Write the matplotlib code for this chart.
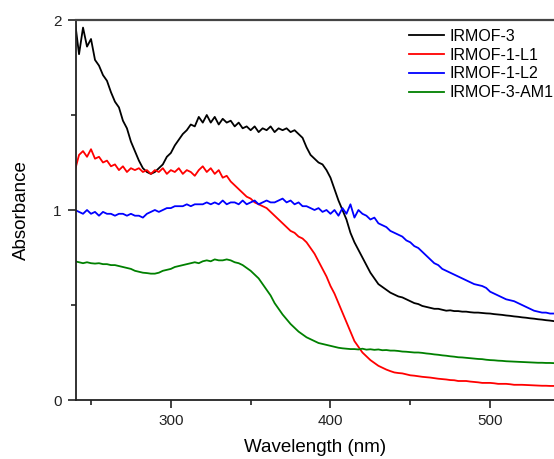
import numpy as np
import matplotlib
matplotlib.use("Agg")
from matplotlib import pyplot as plt
from matplotlib.ticker import MultipleLocator

plt.rcParams['font.family'] = ['Liberation Sans', 'DejaVu Sans']

# wavelength grid (nm), 2.5 nm steps from 240 to 540
wavelength = np.arange(240, 540.1, 2.5)

irmof3 = [1.99, 1.82, 1.96, 1.86, 1.90, 1.79, 1.76, 1.71, 1.68, 1.62,
          1.57, 1.54, 1.47, 1.43, 1.36, 1.31, 1.26, 1.22, 1.20, 1.19,
          1.20, 1.22, 1.24, 1.28, 1.30, 1.34, 1.37, 1.40, 1.42, 1.45,
          1.44, 1.49, 1.46, 1.50, 1.46, 1.49, 1.45, 1.48, 1.46, 1.47,
          1.44, 1.46, 1.43, 1.44, 1.42, 1.44, 1.41, 1.43, 1.42, 1.44,
          1.41, 1.43, 1.42, 1.43, 1.41, 1.42, 1.40, 1.38, 1.33, 1.29,
          1.27, 1.25, 1.24, 1.21, 1.17, 1.11, 1.05, 1.00, 0.95, 0.88,
          0.83, 0.79, 0.75, 0.71, 0.67, 0.64, 0.61, 0.595, 0.58, 0.565,
          0.555, 0.545, 0.54, 0.53, 0.52, 0.51, 0.505, 0.495, 0.49, 0.485,
          0.48, 0.48, 0.475, 0.47, 0.472, 0.468, 0.468, 0.465, 0.465, 0.462,
          0.46, 0.46, 0.458, 0.456, 0.455, 0.452, 0.45, 0.448, 0.445, 0.443,
          0.44, 0.438, 0.435, 0.433, 0.43, 0.428, 0.425, 0.423, 0.42, 0.418,
          0.415]

irmof1_l1 = [1.21, 1.29, 1.31, 1.28, 1.32, 1.27, 1.28, 1.25, 1.26, 1.23,
             1.24, 1.21, 1.23, 1.20, 1.22, 1.21, 1.22, 1.20, 1.21, 1.19,
             1.21, 1.20, 1.22, 1.19, 1.21, 1.20, 1.22, 1.19, 1.21, 1.20,
             1.18, 1.21, 1.23, 1.20, 1.22, 1.19, 1.21, 1.17, 1.18, 1.15,
             1.13, 1.11, 1.09, 1.07, 1.06, 1.04, 1.03, 1.02, 1.01, 0.99,
             0.97, 0.95, 0.93, 0.91, 0.89, 0.88, 0.86, 0.85, 0.83, 0.80,
             0.77, 0.73, 0.69, 0.65, 0.60, 0.56, 0.51, 0.46, 0.41, 0.36,
             0.31, 0.28, 0.25, 0.23, 0.21, 0.195, 0.18, 0.17, 0.16, 0.152,
             0.145, 0.142, 0.14, 0.135, 0.13, 0.128, 0.125, 0.122, 0.12, 0.118,
             0.115, 0.112, 0.11, 0.108, 0.105, 0.104, 0.10, 0.10, 0.10, 0.097,
             0.095, 0.093, 0.09, 0.09, 0.09, 0.088, 0.085, 0.085, 0.085, 0.083,
             0.08, 0.08, 0.08, 0.079, 0.078, 0.077, 0.076, 0.075, 0.075, 0.074,
             0.074]

irmof1_l2 = [1.00, 0.99, 0.98, 1.00, 0.98, 0.99, 0.97, 0.99, 0.98, 0.98,
             0.97, 0.98, 0.98, 0.97, 0.98, 0.97, 0.97, 0.96, 0.98, 0.99,
             1.00, 0.99, 1.00, 1.01, 1.01, 1.02, 1.02, 1.02, 1.03, 1.02,
             1.03, 1.03, 1.03, 1.04, 1.03, 1.04, 1.03, 1.05, 1.03, 1.04,
             1.04, 1.03, 1.05, 1.03, 1.04, 1.05, 1.03, 1.04, 1.05, 1.04,
             1.04, 1.05, 1.06, 1.04, 1.05, 1.03, 1.04, 1.02, 1.02, 1.01,
             1.00, 1.01, 0.99, 1.00, 0.98, 1.00, 0.97, 1.01, 0.98, 1.03,
             0.96, 1.00, 0.98, 0.97, 0.95, 0.96, 0.93, 0.92, 0.91, 0.89,
             0.88, 0.87, 0.86, 0.84, 0.83, 0.81, 0.80, 0.78, 0.76, 0.74,
             0.72, 0.71, 0.69, 0.68, 0.67, 0.66, 0.65, 0.64, 0.63, 0.62,
             0.61, 0.605, 0.60, 0.59, 0.57, 0.56, 0.55, 0.54, 0.53, 0.525,
             0.52, 0.51, 0.50, 0.49, 0.48, 0.47, 0.465, 0.46, 0.46, 0.455,
             0.455]

irmof3_am1 = [0.73, 0.725, 0.72, 0.725, 0.72, 0.718, 0.72, 0.715, 0.715, 0.71,
              0.71, 0.705, 0.70, 0.695, 0.69, 0.68, 0.675, 0.67, 0.668, 0.665,
              0.665, 0.67, 0.68, 0.685, 0.69, 0.70, 0.705, 0.71, 0.715, 0.72,
              0.725, 0.72, 0.73, 0.735, 0.73, 0.74, 0.735, 0.735, 0.74, 0.735,
              0.725, 0.72, 0.71, 0.695, 0.68, 0.66, 0.64, 0.61, 0.58, 0.55,
              0.51, 0.48, 0.45, 0.425, 0.40, 0.38, 0.36, 0.345, 0.33, 0.32,
              0.31, 0.30, 0.295, 0.29, 0.285, 0.28, 0.275, 0.272, 0.27, 0.268,
              0.268, 0.266, 0.27, 0.265, 0.267, 0.264, 0.266, 0.262, 0.263, 0.26,
              0.26, 0.258, 0.255, 0.254, 0.252, 0.25, 0.25, 0.248, 0.245, 0.243,
              0.24, 0.238, 0.235, 0.233, 0.23, 0.228, 0.225, 0.224, 0.222, 0.22,
              0.218, 0.216, 0.215, 0.212, 0.21, 0.209, 0.207, 0.206, 0.204, 0.203,
              0.202, 0.201, 0.20, 0.199, 0.198, 0.197, 0.196, 0.196, 0.195, 0.195,
              0.194]

labels = ['IRMOF-3', 'IRMOF-1-L1', 'IRMOF-1-L2', 'IRMOF-3-AM1']
colors = ['black', '#ff0000', '#0000ff', '#008000']

fig = plt.figure(figsize=(5.54, 4.59), dpi=100)
ax = fig.add_axes([76 / 554, 1 - 400 / 459, 1 - 76 / 554, 380 / 459])

for series, label, color in zip([irmof3, irmof1_l1, irmof1_l2, irmof3_am1], labels, colors):
    ax.plot(wavelength, series, color=color, lw=1.3, label=label)

ax.set_xlim(240.6, 540)
ax.set_ylim(0, 2)
ax.xaxis.set_major_locator(MultipleLocator(100))
ax.xaxis.set_minor_locator(MultipleLocator(50))
ax.yaxis.set_major_locator(MultipleLocator(1))
ax.yaxis.set_minor_locator(MultipleLocator(0.5))
ax.tick_params(which='major', direction='out', length=5.8, width=1.2, labelsize=11,
               colors='#222222', pad=4.5)
ax.tick_params(which='minor', direction='out', length=3.6, width=1.2, colors='#222222')

ax.spines['right'].set_visible(False)
for side in ['left', 'bottom']:
    ax.spines[side].set_linewidth(1.3)
    ax.spines[side].set_color('#222222')
ax.spines['top'].set_linewidth(1.6)
ax.spines['top'].set_color('#444444')

ax.set_xlabel('Wavelength (nm)', fontsize=13.5, labelpad=8)
ax.set_ylabel('Absorbance', fontsize=13.5, labelpad=17)

ax.legend(loc='upper left', bbox_to_anchor=(0.697, 0.977), frameon=False, fontsize=11.5,
          handlelength=2.2, handletextpad=0.3, labelspacing=0.24,
          borderaxespad=0, borderpad=0)

plt.savefig('out.png', dpi=100)
